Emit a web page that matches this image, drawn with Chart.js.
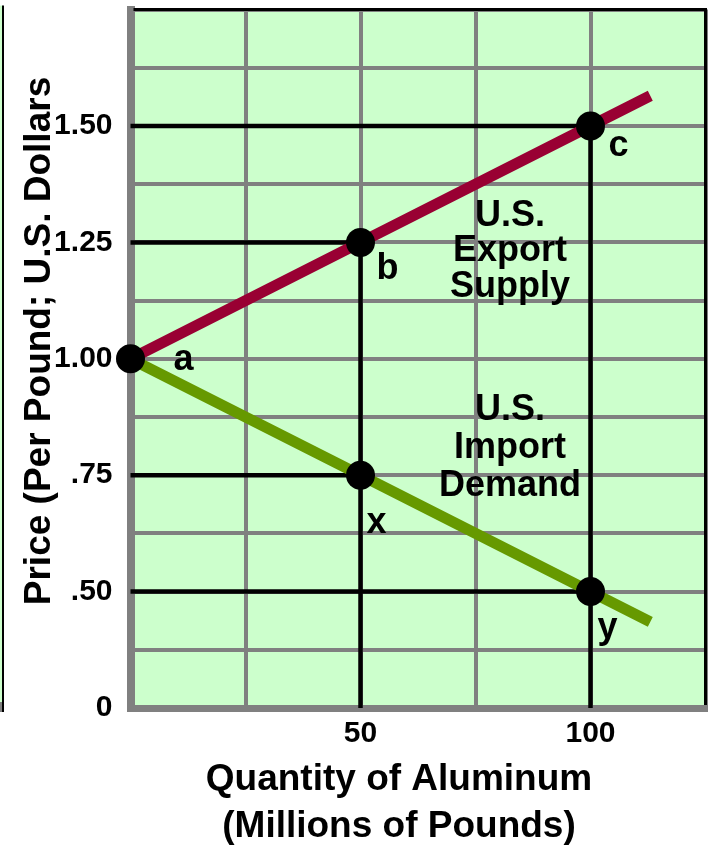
<!DOCTYPE html>
<html>
<head>
<meta charset="utf-8">
<script src="https://cdn.jsdelivr.net/npm/chart.js@4/dist/chart.umd.min.js"></script>
<style>
  html, body { margin: 0; padding: 0; background: #ffffff; }
  #wrap { width: 710px; height: 849px; position: relative; }
</style>
</head>
<body>
<div id="wrap"><canvas id="chart" width="710" height="849"></canvas></div>
<script>
// Marked points on the two schedules (quantity in millions of pounds, price in US$ per pound)
const quantity     = [0, 50, 100];
const supplyPrice  = [1.00, 1.25, 1.50];
const demandPrice  = [1.00, 0.75, 0.50];
const supplyNames  = ['a', 'b', 'c'];
const demandNames  = ['', 'x', 'y'];

// Where each drawn schedule line stops on the right
const lineEndQuantity = 113;
const supplyEndPrice  = 1.565;
const demandEndPrice  = 0.435;

// Axis ticks
const yTickPrices = [0, 0.50, 0.75, 1.00, 1.25, 1.50];
const yTickLabels = ['0', '.50', '.75', '1.00', '1.25', '1.50'];
const xTickValues = [50, 100];
const xTickLabels = ['50', '100'];

// The price axis is broken below .50: every grid step above .50 is $0.125,
// and zero sits two steps under .50.
function priceToAxis(p) {
  return p <= 0 ? 0 : 2 + (p - 0.5) / 0.125;
}

const FONT = '"Liberation Sans", Arial, Helvetica, sans-serif';
const RED = '#990033';
const GREEN = '#669900';
const GRID = '#808080';

// ---- datasets built from the arrays above ----
const pt = (q, p) => ({ x: q, y: priceToAxis(p) });

const markedPoints = [];
const tagPoints = [];
quantity.forEach((q, i) => {
  markedPoints.push(pt(q, supplyPrice[i]));
  tagPoints.push({ name: supplyNames[i], q, p: supplyPrice[i] });
  if (demandNames[i]) {
    markedPoints.push(pt(q, demandPrice[i]));
    tagPoints.push({ name: demandNames[i], q, p: demandPrice[i] });
  }
});

const supplyLine = quantity.map((q, i) => pt(q, supplyPrice[i])).concat([pt(lineEndQuantity, supplyEndPrice)]);
const demandLine = quantity.map((q, i) => pt(q, demandPrice[i])).concat([pt(lineEndQuantity, demandEndPrice)]);

// Black guide lines: across from the price axis to each marked point, and
// down from the supply points to the quantity axis.
const guideSets = [];
quantity.forEach((q, i) => {
  if (q === 0) return;
  [supplyPrice[i], demandPrice[i]].forEach(p => {
    guideSets.push([pt(0, p), pt(q, p)]);
  });
  guideSets.push([pt(q, supplyPrice[i]), pt(q, 0)]);
});

const datasets = [
  {
    type: 'scatter', data: markedPoints, order: 0,
    pointRadius: 14.5, pointHoverRadius: 14.5,
    backgroundColor: '#000000', borderWidth: 0, showLine: false, clip: false
  },
  {
    type: 'line', data: supplyLine, order: 1,
    borderColor: RED, borderWidth: 11, pointRadius: 0, borderCapStyle: 'butt',
    tension: 0, fill: false, clip: false
  },
  {
    type: 'line', data: demandLine, order: 1,
    borderColor: GREEN, borderWidth: 11, pointRadius: 0, borderCapStyle: 'butt',
    tension: 0, fill: false, clip: false
  }
].concat(guideSets.map(seg => ({
  type: 'line', data: seg, order: 2,
  borderColor: '#000000', borderWidth: 4.5, pointRadius: 0, borderCapStyle: 'butt',
  tension: 0, fill: false, clip: false
})));

// ---- plugins ----
const plotFrame = {
  id: 'plotFrame',
  beforeDraw(chart) {
    const { ctx, chartArea: a } = chart;
    ctx.save();
    // edge of the adjacent panel frame at the far left
    ctx.fillStyle = '#ccffcc';
    ctx.fillRect(0, a.top - 4, 3, a.bottom - a.top + 8);
    ctx.fillStyle = GRID;
    ctx.fillRect(0, a.bottom - 6, 3, 10);
    ctx.strokeStyle = '#000000';
    ctx.lineWidth = 2;
    ctx.beginPath();
    ctx.moveTo(3, a.top - 4);
    ctx.lineTo(3, a.bottom + 4);
    ctx.stroke();
    // plot background
    ctx.fillStyle = '#ccffcc';
    ctx.fillRect(a.left, a.top, a.right - a.left, a.bottom - a.top);
    ctx.restore();
  },
  afterDatasetsDraw(chart) {
    const { ctx, chartArea: a } = chart;
    ctx.save();
    ctx.strokeStyle = '#000000';
    ctx.lineWidth = 3;
    ctx.beginPath();
    ctx.moveTo(a.left + 3, a.top);
    ctx.lineTo(a.right, a.top);
    ctx.lineTo(a.right, a.bottom - 3);
    ctx.stroke();
    ctx.restore();
  }
};

const pointTags = {
  id: 'pointTags',
  afterDatasetsDraw(chart, args, opts) {
    const { ctx, scales: { x, y } } = chart;
    ctx.save();
    ctx.fillStyle = '#000000';
    ctx.font = 'bold 36px ' + FONT;
    ctx.textAlign = 'center';
    ctx.textBaseline = 'alphabetic';
    tagPoints.forEach(t => {
      const off = opts.offsets[t.name];
      const px = x.getPixelForValue(t.q);
      const py = y.getPixelForValue(priceToAxis(t.p));
      ctx.fillText(t.name, px + off[0], py + off[1]);
    });
    opts.blocks.forEach(b => {
      const cx = x.getPixelForValue(b.q);
      const cy = y.getPixelForValue(b.axisY);
      b.lines.forEach((s, i) => {
        ctx.fillText(s, cx, cy + (i - 1) * b.lineHeight);
      });
    });
    ctx.restore();
  }
};

const axisTitles = {
  id: 'axisTitles',
  afterDraw(chart, args, opts) {
    const { ctx } = chart;
    ctx.save();
    ctx.fillStyle = '#000000';
    ctx.font = 'bold 37px ' + FONT;
    ctx.textAlign = 'center';
    ctx.textBaseline = 'alphabetic';
    // vertical title
    ctx.save();
    ctx.translate(opts.yTitle.x, opts.yTitle.y);
    ctx.rotate(-Math.PI / 2);
    ctx.fillText(opts.yTitle.text, 0, 0);
    ctx.restore();
    // horizontal title, two lines
    opts.xTitle.lines.forEach((s, i) => {
      ctx.fillText(s, opts.xTitle.x, opts.xTitle.y + i * opts.xTitle.lineHeight);
    });
    ctx.restore();
  }
};

const tickFont = { family: FONT, size: 30, weight: 'bold' };

// fixed axis sizes, with no extra room reserved for edge labels
function fixBox(size, dim) {
  return s => {
    s[dim] = size;
    s.paddingTop = 0; s.paddingBottom = 0; s.paddingLeft = 0; s.paddingRight = 0;
  };
}

new Chart(document.getElementById('chart'), {
  data: { datasets },
  options: {
    responsive: false,
    animation: false,
    devicePixelRatio: 1,
    events: [],
    layout: { autoPadding: false, padding: { top: 9.6, right: 4.5, left: 0, bottom: 0 } },
    plugins: {
      legend: { display: false },
      tooltip: { enabled: false },
      pointTags: {
        offsets: { a: [53, 11], b: [27, 37], c: [28, 30], x: [16, 58], y: [17, 46] },
        blocks: [
          { lines: ['U.S.', 'Export', 'Supply'], q: 82.5, axisY: 7.68, lineHeight: 35.5 },
          { lines: ['U.S.', 'Import', 'Demand'], q: 82.5, axisY: 4.30, lineHeight: 38 }
        ]
      },
      axisTitles: {
        yTitle: { text: 'Price (Per Pound; U.S. Dollars', x: 50, y: 341 },
        xTitle: { lines: ['Quantity of Aluminum', '(Millions of Pounds)'], x: 399, y: 790, lineHeight: 47 }
      }
    },
    scales: {
      x: {
        type: 'linear', min: 0, max: 125,
        afterFit: fixBox(141, 'height'),
        ticks: {
          stepSize: 25, autoSkip: false, maxRotation: 0, padding: 8,
          color: '#000000', font: tickFont,
          callback(v) { const i = xTickValues.indexOf(v); return i >= 0 ? xTickLabels[i] : ''; }
        },
        grid: { color: GRID, lineWidth: 4, drawTicks: false },
        border: { color: GRID, width: 7 }
      },
      y: {
        type: 'linear', min: 0, max: 12,
        afterFit: fixBox(130.5, 'width'),
        ticks: {
          stepSize: 1, autoSkip: false, padding: 18,
          color: '#000000', font: tickFont,
          callback(v) {
            const i = yTickPrices.findIndex(p => Math.abs(priceToAxis(p) - v) < 1e-9);
            return i >= 0 ? yTickLabels[i] : '';
          }
        },
        grid: { color: GRID, lineWidth: 4, drawTicks: false },
        border: { color: GRID, width: 8 }
      }
    }
  },
  plugins: [plotFrame, pointTags, axisTitles]
});
</script>
</body>
</html>
